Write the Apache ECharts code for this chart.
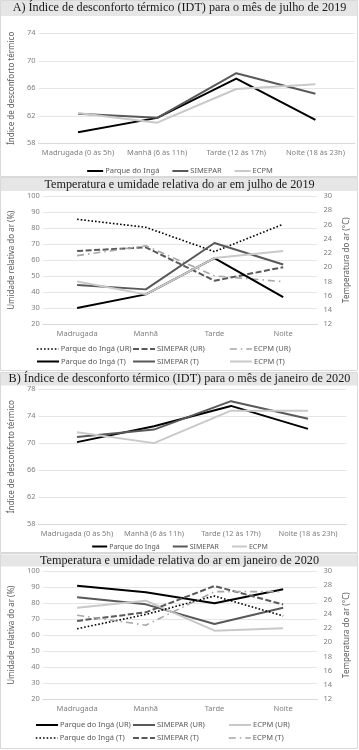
<!DOCTYPE html>
<html>
<head>
<meta charset="utf-8">
<script src="https://cdn.jsdelivr.net/npm/echarts@6/dist/echarts.min.js"></script>
<style>
  html, body { margin: 0; padding: 0; background: #fff; }
  #chart { width: 359px; height: 750px; }
</style>
</head>
<body>
<div id="chart"></div>
<script>
// categorias
const periodosIdt = ['Madrugada (0 às 5h)', 'Manhã (6 às 11h)', 'Tarde (12 às 17h)', 'Noite (18 às 23h)']
const periodos = ['Madrugada', 'Manhã', 'Tarde', 'Noite']

// A) IDT julho 2019
const idtJulParque = [59.6, 61.7, 67.4, 61.4]
const idtJulSimepar = [62.3, 61.7, 68.2, 65.2]
const idtJulEcpm = [62.4, 61.0, 65.9, 66.6]

// UR e T julho 2019
const urJulParque = [85.5, 80.5, 65.3, 82.4]
const urJulSimepar = [65.7, 68.0, 47.2, 55.6]
const urJulEcpm = [62.8, 69.0, 50.2, 46.6]
const tJulParque = [14.3, 16.2, 21.3, 15.8]
const tJulSimepar = [17.5, 16.9, 23.4, 20.4]
const tJulEcpm = [18.0, 16.2, 21.3, 22.3]

// B) IDT janeiro 2020
const idtJanParque = [70.15, 72.5, 75.5, 72.1]
const idtJanSimepar = [70.9, 72.0, 76.2, 73.6]
const idtJanEcpm = [71.6, 70.0, 74.8, 74.8]

// UR e T janeiro 2020
const urJanParque = [90.8, 86.7, 79.9, 88.6]
const urJanSimepar = [83.6, 79.2, 67.0, 77.1]
const urJanEcpm = [77.1, 81.5, 62.8, 64.3]
const tJanParque = [21.9, 23.9, 26.5, 23.7]
const tJanSimepar = [23.0, 24.2, 27.9, 25.3]
const tJanEcpm = [23.8, 22.4, 27.1, 27.1]

const BLACK = '#000000'
const DARK = '#595959'
const LIGHT = '#c9c9c9'
const MID = '#a6a6a6'

const labelColor = '#7f7f7f'
const nameColor = '#595959'
const gridColor = '#e6e6e6'
const sans = 'Noto Sans'
const serif = 'Liberation Serif'

const styles = {
  parqueSolid: { color: BLACK, width: 2, type: 'solid' },
  simeparSolid: { color: DARK, width: 2, type: 'solid' },
  ecpmSolid: { color: LIGHT, width: 2, type: 'solid' },
  parqueDot: { color: BLACK, width: 1.6, type: [1.6, 2] },
  simeparDash: { color: DARK, width: 2, type: [6, 2.5] },
  ecpmDashDot: { color: MID, width: 1.6, type: [7, 4, 1.5, 4] }
}

const chart = echarts.init(document.getElementById('chart'))

const catAxis = (gridIndex, data) => ({
  type: 'category', gridIndex, data, boundaryGap: true,
  axisLine: { show: true, lineStyle: { color: '#d9d9d9' } },
  axisTick: { show: false },
  axisLabel: { color: labelColor, fontFamily: sans, fontSize: 7.5, margin: 6, interval: 0 }
})

const valAxis = (gridIndex, min, max, interval, name, pos, nameGap, showSplit) => ({
  type: 'value', gridIndex, min, max, interval, position: pos,
  name, nameLocation: 'middle', nameGap, nameRotate: 90,
  nameTextStyle: { color: nameColor, fontFamily: sans, fontSize: 8 },
  axisLine: { show: false }, axisTick: { show: false },
  axisLabel: { color: labelColor, fontFamily: sans, fontSize: 7.5, margin: pos === 'right' ? 6 : 3 },
  splitLine: { show: showSplit, lineStyle: { color: gridColor } }
})

const line = (name, data, xi, yi, st) => ({
  name, type: 'line', data, xAxisIndex: xi, yAxisIndex: yi,
  symbol: 'none', smooth: false, lineStyle: st, itemStyle: { color: st.color }
})

// legend icon: line only, hide the default circle
const legendItem = (name, st) => ({ name, lineStyle: st, itemStyle: { opacity: 0 } })

const legendOne = (items, left, top, w) => ({
  data: items, left, top, orient: 'horizontal', itemWidth: w, itemHeight: 8, itemGap: 10,
  padding: 0, selectedMode: false,
  textStyle: { color: '#595959', fontFamily: sans, fontSize: 7.5, padding: [0, 0, 0, -3] }
})

const titles = [
  { text: 'A) Índice de desconforto térmico (IDT) para o mês de julho de 2019', c: 8 },
  { text: 'Temperatura e umidade relativa do ar em julho de 2019', c: 184.5 },
  { text: 'B) Índice de desconforto térmico (IDT) para o mês de janeiro de 2020', c: 379 },
  { text: 'Temperatura e umidade relativa do ar em janeiro de 2020', c: 560.5 }
].map(t => ({
  text: t.text, left: 'center', top: t.c - 6.5, padding: 0,
  textStyle: { fontFamily: serif, fontSize: 12.2, fontWeight: 'normal', color: '#1a1a1a', lineHeight: 13 }
}))

const box = (y, h) => ({ type: 'rect', shape: { x: 0.5, y: y + 0.5, width: 357, height: h }, style: { fill: 'none', stroke: '#d9d9d9', lineWidth: 1 }, silent: true })
const band = (y, h) => ({ type: 'rect', shape: { x: 1, y, width: 356, height: h }, style: { fill: '#e7e6e6' }, silent: true, z: -1 })

chart.setOption({
  animation: false,
  backgroundColor: '#fff',
  title: titles,
  graphic: [
    band(0, 16), band(178, 13), band(372.5, 13), band(554.5, 12),
    box(0, 176), box(177, 193), box(372, 180), box(553, 195)
  ],
  grid: [
    { left: 31, width: 324, top: 33.3, height: 110 },
    { left: 38.6, width: 286, top: 196, height: 128.3 },
    { left: 32.5, width: 314, top: 389, height: 135.3 },
    { left: 38.6, width: 284, top: 571, height: 128.3 }
  ],
  xAxis: [catAxis(0, periodosIdt), catAxis(1, periodos), catAxis(2, periodosIdt), catAxis(3, periodos)],
  yAxis: [
    valAxis(0, 58, 74, 4, 'Índice de desconforto térmico', 'left', 19, true),
    valAxis(1, 20, 100, 10, 'Umidade relativa do ar (%)', 'left', 24, true),
    valAxis(1, 12, 30, 2, 'Temperatura do ar (°C)', 'right', 22, false),
    valAxis(2, 58, 78, 4, 'Índice de desconforto térmico', 'left', 19, true),
    valAxis(3, 20, 100, 10, 'Umidade relativa do ar (%)', 'left', 24, true),
    valAxis(3, 12, 30, 2, 'Temperatura do ar (°C)', 'right', 22, false)
  ],
  legend: [
    { data: [legendItem('Parque do Ingá', styles.parqueSolid), legendItem('SIMEPAR', styles.simeparSolid), legendItem('ECPM', styles.ecpmSolid)],
      left: 'center', top: 167, itemWidth: 16, itemHeight: 8, itemGap: 12, padding: 0, selectedMode: false,
      textStyle: { color: '#595959', fontFamily: sans, fontSize: 7.5, padding: [0, 0, 0, -3] } },
    legendOne([legendItem('Parque do Ingá (UR)', styles.parqueDot)], 36, 345, 22),
    legendOne([legendItem('SIMEPAR (UR)', styles.simeparDash)], 132, 345, 22),
    legendOne([legendItem('ECPM (UR)', styles.ecpmDashDot)], 229, 345, 22),
    legendOne([legendItem('Parque do Ingá (T)', styles.parqueSolid)], 36, 357.5, 22),
    legendOne([legendItem('SIMEPAR (T)', styles.simeparSolid)], 132, 357.5, 22),
    legendOne([legendItem('ECPM (T)', styles.ecpmSolid)], 229, 357.5, 22),
    { data: [legendItem('Parque do Ingá', styles.parqueSolid), legendItem('SIMEPAR', styles.simeparSolid), legendItem('ECPM', styles.ecpmSolid)],
      left: 'center', top: 543, itemWidth: 15, itemHeight: 8, itemGap: 12, padding: 0, selectedMode: false,
      textStyle: { color: '#595959', fontFamily: sans, fontSize: 7, padding: [0, 0, 0, -3] } },
    legendOne([legendItem('Parque do Ingá (UR)', styles.parqueSolid)], 35, 721, 22),
    legendOne([legendItem('SIMEPAR (UR)', styles.simeparSolid)], 132, 721, 22),
    legendOne([legendItem('ECPM (UR)', styles.ecpmSolid)], 228, 721, 22),
    legendOne([legendItem('Parque do Ingá (T)', styles.parqueDot)], 35, 734, 22),
    legendOne([legendItem('SIMEPAR (T)', styles.simeparDash)], 132, 734, 22),
    legendOne([legendItem('ECPM (T)', styles.ecpmDashDot)], 228, 734, 22)
  ],
  series: [
    line('Parque do Ingá', idtJulParque, 0, 0, styles.parqueSolid),
    line('SIMEPAR', idtJulSimepar, 0, 0, styles.simeparSolid),
    line('ECPM', idtJulEcpm, 0, 0, styles.ecpmSolid),

    line('Parque do Ingá (UR)', urJulParque, 1, 1, styles.parqueDot),
    line('SIMEPAR (UR)', urJulSimepar, 1, 1, styles.simeparDash),
    line('ECPM (UR)', urJulEcpm, 1, 1, styles.ecpmDashDot),
    line('Parque do Ingá (T)', tJulParque, 1, 2, styles.parqueSolid),
    line('SIMEPAR (T)', tJulSimepar, 1, 2, styles.simeparSolid),
    line('ECPM (T)', tJulEcpm, 1, 2, styles.ecpmSolid),

    line('Parque do Ingá', idtJanParque, 2, 3, styles.parqueSolid),
    line('SIMEPAR', idtJanSimepar, 2, 3, styles.simeparSolid),
    line('ECPM', idtJanEcpm, 2, 3, styles.ecpmSolid),

    line('Parque do Ingá (UR)', urJanParque, 3, 4, styles.parqueSolid),
    line('SIMEPAR (UR)', urJanSimepar, 3, 4, styles.simeparSolid),
    line('ECPM (UR)', urJanEcpm, 3, 4, styles.ecpmSolid),
    line('Parque do Ingá (T)', tJanParque, 3, 5, styles.parqueDot),
    line('SIMEPAR (T)', tJanSimepar, 3, 5, styles.simeparDash),
    line('ECPM (T)', tJanEcpm, 3, 5, styles.ecpmDashDot)
  ]
})
</script>
</body>
</html>
